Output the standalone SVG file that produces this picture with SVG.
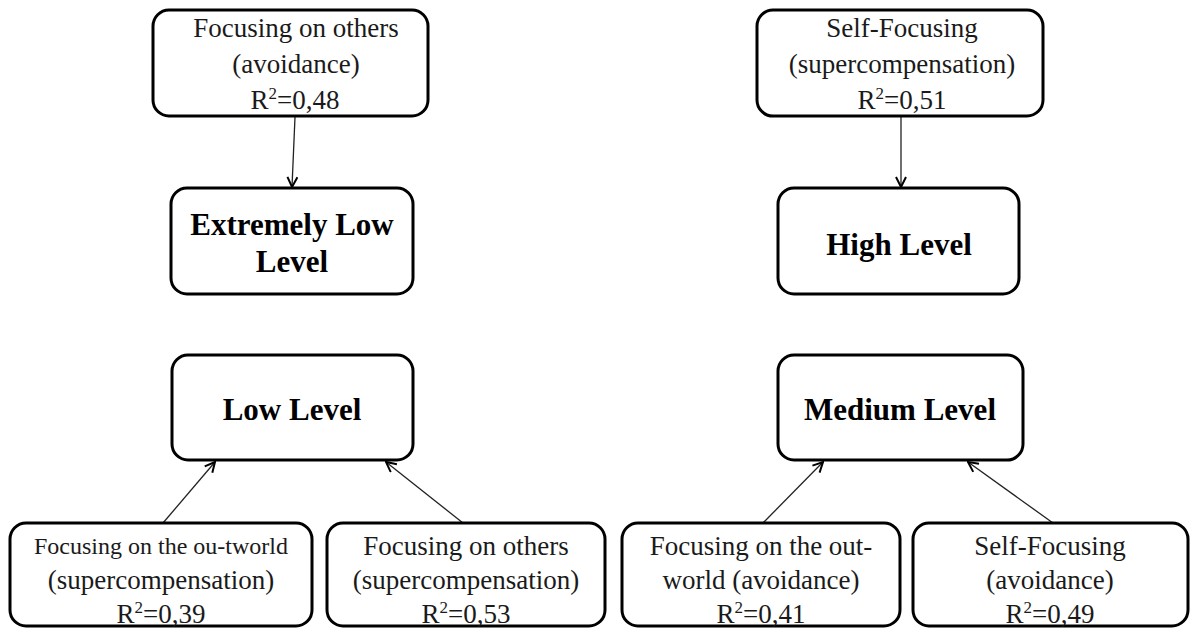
<svg xmlns="http://www.w3.org/2000/svg" width="1192" height="628" viewBox="0 0 1192 628">
<defs>
<style>
.box{fill:#fff;stroke:#000;stroke-width:3}
.t{font-family:"Liberation Serif","Times New Roman",serif;font-size:27px;fill:#1a1a1a;text-anchor:middle}
.s{font-size:24px}
.b{font-family:"Liberation Serif","Times New Roman",serif;font-size:31px;font-weight:bold;fill:#000;text-anchor:middle}
.c{stroke:#222;stroke-width:1.3;fill:none;marker-end:url(#ah)}
</style>
<marker id="ah" viewBox="0 0 12 12" refX="11" refY="6" markerWidth="12" markerHeight="12" markerUnits="userSpaceOnUse" orient="auto">
<path d="M1,1 L11,6 L1,11" fill="none" stroke="#000" stroke-width="2"/>
</marker>
</defs>
<rect width="1192" height="628" fill="#fff"/>
<g id="connectors">
<line class="c" x1="295" y1="117" x2="292" y2="187"/>
<line class="c" x1="901" y1="117" x2="901" y2="187"/>
<line class="c" x1="163" y1="523" x2="215" y2="462"/>
<line class="c" x1="463" y1="523" x2="386" y2="462"/>
<line class="c" x1="763" y1="523" x2="823" y2="462"/>
<line class="c" x1="1053" y1="523" x2="968" y2="462"/>
</g>
<g id="n1">
<rect class="box" x="153" y="10" width="275" height="106" rx="16"/>
<text class="t" x="296" y="37">Focusing on others</text>
<text class="t" x="296" y="73">(avoidance)</text>
<text class="t" x="295" y="109">R<tspan dy="-10" font-size="17">2</tspan><tspan dy="10">=0,48</tspan></text>
</g>
<g id="n2">
<rect class="box" x="757" y="10" width="286" height="106" rx="16"/>
<text class="t" x="902" y="37">Self-Focusing</text>
<text class="t" x="902" y="73">(supercompensation)</text>
<text class="t" x="902" y="109">R<tspan dy="-10" font-size="17">2</tspan><tspan dy="10">=0,51</tspan></text>
</g>
<g id="n3">
<rect class="box" x="171" y="188" width="242" height="106" rx="16"/>
<text class="b" x="292" y="235">Extremely Low</text>
<text class="b" x="292" y="272">Level</text>
</g>
<g id="n4">
<rect class="box" x="778" y="188" width="241" height="106" rx="16"/>
<text class="b" x="899" y="255">High Level</text>
</g>
<g id="n5">
<rect class="box" x="172" y="355" width="241" height="105" rx="16"/>
<text class="b" x="292" y="420">Low Level</text>
</g>
<g id="n6">
<rect class="box" x="778" y="355" width="245" height="105" rx="16"/>
<text class="b" x="900" y="420">Medium Level</text>
</g>
<g id="n7">
<rect class="box" x="10" y="523" width="302" height="103" rx="16"/>
<text class="t s" x="161" y="554">Focusing on the ou-tworld</text>
<text class="t" x="161" y="589">(supercompensation)</text>
<text class="t" x="161" y="623">R<tspan dy="-10" font-size="17">2</tspan><tspan dy="10">=0,39</tspan></text>
</g>
<g id="n8">
<rect class="box" x="327" y="523" width="278" height="103" rx="16"/>
<text class="t" x="466" y="555">Focusing on others</text>
<text class="t" x="466" y="589">(supercompensation)</text>
<text class="t" x="466" y="623">R<tspan dy="-10" font-size="17">2</tspan><tspan dy="10">=0,53</tspan></text>
</g>
<g id="n9">
<rect class="box" x="622" y="523" width="278" height="103" rx="16"/>
<text class="t" x="761" y="555">Focusing on the out-</text>
<text class="t" x="761" y="589">world (avoidance)</text>
<text class="t" x="761" y="623">R<tspan dy="-10" font-size="17">2</tspan><tspan dy="10">=0,41</tspan></text>
</g>
<g id="n10">
<rect class="box" x="913" y="523" width="275" height="103" rx="16"/>
<text class="t" x="1050" y="555">Self-Focusing</text>
<text class="t" x="1050" y="589">(avoidance)</text>
<text class="t" x="1050" y="623">R<tspan dy="-10" font-size="17">2</tspan><tspan dy="10">=0,49</tspan></text>
</g>
</svg>
